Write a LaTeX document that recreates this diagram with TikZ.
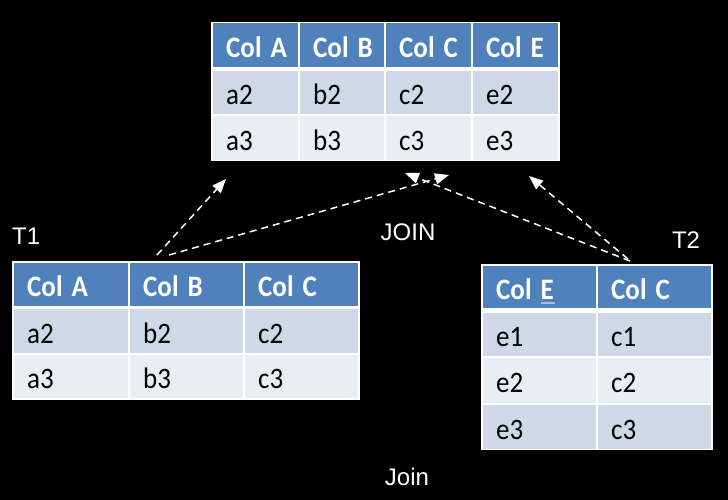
\documentclass[tikz,border=0pt]{standalone}
\usepackage{fontspec}
\usepackage{graphicx}
\setmainfont{Carlito}
\newfontfamily\labfont{Liberation Sans}
\usetikzlibrary{arrows.meta}
\definecolor{hdr}{HTML}{4F81BD}
\definecolor{rowd}{HTML}{D0D8E8}
\definecolor{rowl}{HTML}{E9EDF4}
\definecolor{ulc}{HTML}{A9BCD8}
\newcommand{\tcell}[7]{%
  \pgfmathsetmacro{\tcw}{#4-#2}%
  \pgfmathsetmacro{\tch}{#5-#3}%
  \pgfmathsetmacro{\tct}{#4-#2-26}%
  \node[cellbox, fill=#6, minimum width=\tcw pt, minimum height=\tch pt, text width=\tct pt] (#1) at (#2,#3) {\scalebox{1}[1.1]{\mbox{#7}}};}
\newcommand{\hd}[1]{\textbf{\textcolor{white}{#1}}}
\tikzset{
  cellbox/.style={anchor=north west, inner xsep=13pt, inner ysep=0pt, align=left,
    text height=24pt, text depth=0pt, font=\fontsize{27}{30}\selectfont, text=black},
  lab/.style={text=white, font=\labfont\fontsize{24}{28}\selectfont, inner sep=0pt},
  link/.style={white, line width=1.5pt, dash pattern=on 7pt off 5pt,
    -{Triangle[length=14pt,width=11pt,fill=white]}}
}
\begin{document}
\begin{tikzpicture}[x=1pt,y=-1pt]
\fill[black] (0,0) rectangle (728,500);
\useasboundingbox (0,0) rectangle (728,500);
% ---------- result table ----------
\fill[white] (211,22) rectangle (560,161);
\tcell{rA}{213}{23}{298}{67}{hdr}{\hd{Col A}}
\tcell{rB}{300}{23}{384}{67}{hdr}{\hd{Col B}}
\tcell{rC}{386}{23}{471}{67}{hdr}{\hd{Col C}}
\tcell{rE}{473}{23}{558}{67}{hdr}{\hd{Col E}}
\tcell{ra2}{213}{71}{298}{114}{rowd}{a2}
\tcell{rb2}{300}{71}{384}{114}{rowd}{b2}
\tcell{rc2}{386}{71}{471}{114}{rowd}{c2}
\tcell{re2}{473}{71}{558}{114}{rowd}{e2}
\tcell{ra3}{213}{116}{298}{160}{rowl}{a3}
\tcell{rb3}{300}{116}{384}{160}{rowl}{b3}
\tcell{rc3}{386}{116}{471}{160}{rowl}{c3}
\tcell{re3}{473}{116}{558}{160}{rowl}{e3}
% ---------- T1 ----------
\fill[white] (12,261) rectangle (360,400);
\tcell{pA}{14}{263}{128}{306}{hdr}{\hd{Col A}}
\tcell{pB}{130}{263}{243}{306}{hdr}{\hd{Col B}}
\tcell{pC}{245}{263}{358}{306}{hdr}{\hd{Col C}}
\tcell{pa2}{14}{309}{128}{353}{rowd}{a2}
\tcell{pb2}{130}{309}{243}{353}{rowd}{b2}
\tcell{pc2}{245}{309}{358}{353}{rowd}{c2}
\tcell{pa3}{14}{355}{128}{398}{rowl}{a3}
\tcell{pb3}{130}{355}{243}{398}{rowl}{b3}
\tcell{pc3}{245}{355}{358}{398}{rowl}{c3}
% ---------- T2 ----------
\fill[white] (481,264) rectangle (713,450);
\tcell{qE}{483}{266}{596}{308}{hdr}{\hd{Col \rlap{\textcolor{ulc}{\rule[-4pt]{14pt}{1.2pt}}}E}}
\tcell{qC}{598}{266}{711}{308}{hdr}{\hd{Col C}}
\tcell{qe1}{483}{313}{596}{356}{rowd}{e1}
\tcell{qc1}{598}{313}{711}{356}{rowd}{c1}
\tcell{qe2}{483}{358}{596}{403}{rowl}{e2}
\tcell{qc2}{598}{358}{711}{403}{rowl}{c2}
\tcell{qe3}{483}{405}{596}{449}{rowd}{e3}
\tcell{qc3}{598}{405}{711}{449}{rowd}{c3}
% ---------- labels ----------
\node[lab, anchor=base west] (t1lab) at (12,244) {T1};
\node[lab, anchor=base] (t2lab) at (686,248) {T2};
\node[lab, anchor=base] (joinlab) at (408,240) {JOIN};
\node[lab, anchor=base] (joinlow) at (407,485) {Join};
% ---------- connectors ----------
\coordinate (s1) at (157,255);
\coordinate (s2) at (169,255);
\coordinate (s3) at (630,261);
\coordinate (s4) at (628,259);
\coordinate (e1) at (226,179);
\coordinate (e2) at (449,175);
\coordinate (e3) at (405,173);
\coordinate (e4) at (529,176);
\draw[link] (s1) -- (e1);
\draw[link] (s2) -- (e2);
\draw[link] (s3) -- (e3);
\draw[link] (s4) -- (e4);
\end{tikzpicture}
\end{document}
